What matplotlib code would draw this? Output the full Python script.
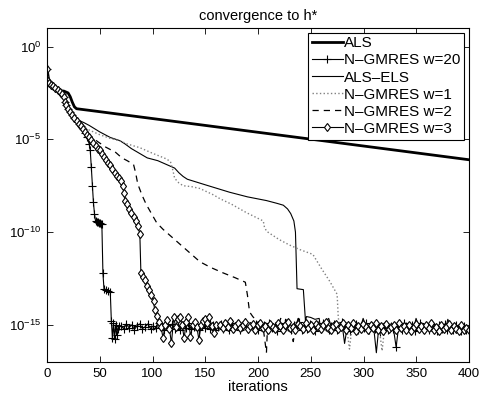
import numpy as np
import matplotlib
matplotlib.use("Agg")
import matplotlib.pyplot as plt
from matplotlib.ticker import NullLocator

plt.rcParams['font.family'] = ['Liberation Sans', 'DejaVu Sans']
plt.rcParams['mathtext.fontset'] = 'custom'
plt.rcParams['mathtext.rm'] = 'Liberation Sans'
plt.rcParams['mathtext.it'] = 'Liberation Sans:italic'

# --- data (log10 of the error) ---
labels = ['ALS', 'N–GMRES w=20', 'ALS–ELS', 'N–GMRES w=1', 'N–GMRES w=2', 'N–GMRES w=3']
xticks = [0, 50, 100, 150, 200, 250, 300, 350, 400]
yticks = [1e0, 1e-5, 1e-10, 1e-15]
ytick_labels = ['$10^{0}$', '$10^{-5}$', '$10^{-10}$', '$10^{-15}$']

# ALS
als_it = [0, 2, 5, 8, 12, 16, 20, 22, 24, 26, 28, 50, 100, 150, 200, 250, 300, 350, 400]
als_lg = [-1.2, -1.95, -2.15, -2.3, -2.38, -2.4, -2.5, -2.7, -3.0, -3.25, -3.35,
          -3.51, -3.88, -4.25, -4.62, -4.99, -5.36, -5.73, -6.1]

# shared start of the accelerated runs
bundle_it = [0, 1, 2, 4, 6, 8, 10, 12, 14, 16, 17, 18, 20, 22, 24, 26, 28]
bundle_lg = [-1.2, -1.85, -1.95, -2.05, -2.15, -2.25, -2.35, -2.45, -2.55, -2.7,
             -3.0, -3.15, -3.35, -3.55, -3.7, -3.85, -4.0]

# N-GMRES w=20
w20_it = [30, 32, 34, 36, 38, 40, 41, 42, 43, 44, 45, 46, 47, 48, 49, 50, 51, 52, 53,
          54, 56, 58, 60, 61, 62, 63, 64, 65, 66, 67, 68]
w20_lg = [-4.15, -4.3, -4.45, -4.65, -4.9, -5.25, -5.6, -6.5, -7.5, -8.4, -9.0, -9.4,
          -9.45, -9.45, -9.5, -9.5, -9.55, -9.55, -12.2, -13.05, -13.1, -13.15, -13.25,
          -14.8, -15.7, -14.9, -15.75, -15.0, -15.55, -15.2, -15.05]
w20_floor = [-15.05, -15.2, -14.95, -15.15, -15.0, -15.25, -15.05, -14.95, -15.2, -15.1,
             -14.95, -15.2, -15.05, -15.15, -14.9, -15.1, -15.25, -15.0, -15.15, -14.95,
             -15.2, -15.05, -15.3, -15.0, -15.15, -14.9, -15.2, -15.1, -14.95, -15.25,
             -15.05, -15.15, -14.9, -15.2, -15.0, -15.3, -15.1, -14.95, -15.2, -15.05,
             -15.25, -14.9, -15.15, -15.0, -15.3, -15.1, -14.85, -15.2, -15.05, -15.15,
             -14.95, -15.3, -15.1, -15.0, -15.25, -14.9, -15.15, -15.05, -15.35, -15.0,
             -15.2, -14.9, -15.1, -15.25, -15.0, -15.15, -14.85, -15.3, -15.05, -15.2,
             -14.95, -15.15, -15.35, -15.0, -15.2, -14.9, -15.1, -15.3, -15.05, -14.95,
             -15.25, -15.1, -14.85, -15.2, -15.0, -15.35, -15.1, -14.95, -15.25, -15.05,
             -15.15, -14.9, -15.3, -15.05, -15.2, -14.95, -15.4, -15.1, -15.0, -15.25,
             -15.05, -15.2, -16.2, -15.0, -15.3, -14.9, -15.15, -15.25, -15.0, -15.35,
             -15.1, -14.9, -15.2, -15.05, -15.3, -14.95, -15.15, -15.35, -15.0, -15.2,
             -14.95, -15.25, -15.1, -15.3, -15.0, -15.2, -15.35, -15.05, -15.25, -15.15]

# ALS-ELS
els_it = [31, 35, 40, 50, 60, 69, 74, 80, 95, 105, 117, 121, 125, 129, 133, 150, 173,
          190, 208, 218, 224, 228, 231, 234, 235.5, 236, 237, 243, 245, 246, 250, 254,
          258, 259]
els_lg = [-4.0, -4.1, -4.25, -4.6, -4.9, -5.07, -5.25, -5.5, -6.0, -6.15, -6.45, -6.55,
          -6.8, -7.0, -7.15, -7.45, -7.85, -8.1, -8.3, -8.45, -8.55, -8.75, -9.0, -9.4,
          -10.0, -11.0, -13.05, -13.1, -14.8, -14.55, -14.6, -14.7, -14.65, -15.1]
els_floor = [-15.0, -14.8, -14.65, -15.1, -14.95, -15.2, -15.05, -14.9, -16.0, -15.1,
             -14.95, -15.2, -15.05, -14.9, -15.15, -14.65, -15.05, -15.25, -15.0, -15.15,
             -16.5, -15.0, -15.2, -14.9, -15.1, -15.25, -14.95, -15.15, -15.05, -15.3,
             -14.95, -15.1, -15.2, -15.0, -15.25, -14.65, -15.1, -15.3, -15.0, -15.2,
             -15.05, -15.35, -14.95, -15.15, -15.25, -15.05, -15.3, -14.7, -15.1, -15.2,
             -15.0, -15.3, -15.1, -15.25, -15.15, -15.3]

# N-GMRES w=1
w1_it = [30, 34, 40, 50, 60, 70, 76, 88, 100, 113, 117, 119, 121, 125, 129, 137, 145,
         158, 164, 175, 189, 205, 206, 208, 220, 230, 240, 252, 260, 268, 275, 276, 277]
w1_lg = [-4.1, -4.3, -4.5, -4.75, -4.95, -5.1, -5.25, -5.45, -5.75, -6.05, -6.2, -6.6,
         -7.1, -7.35, -7.5, -7.55, -7.65, -8.0, -8.2, -8.5, -8.95, -9.4, -9.7, -9.95,
         -10.4, -10.7, -10.95, -11.2, -11.95, -12.65, -13.35, -14.5, -15.1]
w1_floor = [-15.05, -14.9, -15.2, -16.3, -15.0, -15.15, -14.95, -15.25, -15.05, -14.9,
            -15.2, -15.0, -15.15, -14.85, -15.25, -16.4, -15.05, -15.2, -14.95, -15.1,
            -15.3, -15.0, -15.15, -14.9, -15.2, -15.05, -15.3, -14.95, -15.1, -15.25,
            -15.0, -15.15, -15.35, -15.05, -15.2, -14.95, -15.3, -15.1, -15.0, -15.25,
            -15.15, -15.3, -15.05, -15.2, -15.1, -15.35, -15.15, -15.25]

# N-GMRES w=2
w2_it = [32, 36, 40, 45, 50, 55, 60, 64, 71, 76, 82, 84, 86, 90, 94, 100, 104, 110,
         120, 129, 135, 145, 155, 167, 178, 188, 190, 192, 195, 199, 202, 205, 208, 209]
w2_lg = [-4.3, -4.5, -4.75, -5.0, -5.2, -5.4, -5.55, -5.65, -6.0, -6.15, -6.35, -6.8,
         -7.4, -8.0, -8.5, -9.1, -9.5, -9.85, -10.35, -10.8, -11.1, -11.6, -11.9, -12.2,
         -12.45, -12.7, -13.4, -14.3, -14.55, -14.8, -15.1, -15.2, -16.5, -15.1]
w2_floor = [-15.05, -15.2, -14.95, -15.1, -14.65, -15.15, -14.7, -15.0, -15.2, -15.9,
            -15.05, -14.65, -15.15, -14.95, -15.2, -15.05, -15.3, -14.9, -15.1, -15.25,
            -15.0, -15.15, -14.85, -15.2, -15.05, -15.3, -14.95, -15.1, -15.25, -15.0,
            -15.15, -14.9, -15.3, -15.05, -15.2, -14.95, -15.35, -15.1, -15.0, -15.25,
            -15.05, -15.2, -14.9, -15.15, -15.3, -15.0, -15.25, -14.95, -15.15, -15.35,
            -15.05, -15.2, -15.0, -15.3, -14.9, -15.15, -15.25, -15.05, -15.35, -15.1,
            -15.0, -15.25, -15.1, -14.95, -15.3, -15.15, -15.05, -15.35, -15.2, -15.0,
            -15.25, -15.1, -15.35, -15.05, -15.2, -15.0, -15.3, -15.15, -15.25, -15.2]

# N-GMRES w=3
w3_it = [30, 32, 34, 36, 38, 40, 42, 44, 46, 48, 50, 52, 54, 56, 58, 60, 62, 64, 66,
         68, 70, 72, 73, 74, 76, 78, 80, 82, 84, 86, 88, 89, 91, 93, 95, 97, 99, 101,
         102, 104, 106, 108, 110, 112, 114, 116, 118, 120, 122, 124, 126, 128, 130,
         132, 134, 136, 138, 140, 142, 144, 146, 148, 150, 152, 154, 156, 158, 160]
w3_lg = [-4.15, -4.3, -4.45, -4.6, -4.75, -4.9, -5.05, -5.2, -5.35, -5.5, -5.6, -5.8,
         -5.95, -6.1, -6.25, -6.4, -6.6, -6.8, -6.95, -7.1, -7.25, -7.5, -7.9, -8.3,
         -8.5, -8.75, -8.95, -9.2, -9.4, -9.65, -10.1, -12.2, -12.4, -12.6, -12.9,
         -13.1, -13.4, -13.7, -14.2, -14.5, -14.85, -15.1, -15.7, -15.0, -14.75, -15.2,
         -16.0, -14.6, -15.1, -14.7, -14.55, -15.0, -15.7, -14.85, -14.6, -15.65, -15.0,
         -14.85, -15.1, -15.8, -15.0, -14.8, -14.7, -14.9, -14.6, -15.05, -15.45, -15.0]
w3_floor = [-15.0, -15.15, -14.9, -15.1, -14.8, -15.2, -15.05, -14.9, -15.15, -15.0,
            -14.85, -15.2, -15.05, -14.95, -15.25, -15.0, -14.9, -15.15, -15.05, -15.3,
            -14.95, -15.1, -15.2, -14.9, -15.05, -15.25, -15.0, -14.85, -15.15, -15.1,
            -15.3, -14.95, -15.05, -15.2, -14.9, -15.15, -15.0, -15.25, -14.95, -15.1,
            -15.2, -15.0, -14.85, -15.15, -15.3, -15.05, -14.95, -15.2, -15.1, -14.9,
            -15.25, -15.0, -15.15, -14.9, -15.35, -15.05, -15.2, -14.95, -15.1, -15.3,
            -15.0, -15.15, -14.9, -15.25, -15.05, -15.35, -14.95, -15.2, -15.1, -15.0,
            -15.3, -14.9, -15.15, -15.05, -15.25, -15.0, -15.35, -15.1, -14.95, -15.2,
            -15.05, -15.3, -15.0, -15.15, -14.9, -15.25, -15.1, -15.35, -15.0, -15.2,
            -15.1, -14.95, -15.3, -15.05, -15.2, -15.35, -15.0, -15.25, -15.15, -15.3]


def series(tail_it, tail_lg, floor, floor_start):
    it = np.concatenate([bundle_it, tail_it, np.linspace(floor_start, 400, len(floor))])
    lg = np.concatenate([bundle_lg, tail_lg, floor])
    return it, np.power(10.0, lg)


fig = plt.figure(figsize=(4.8, 3.97), dpi=100)
ax = fig.add_axes([47 / 480, 1 - 362 / 397, 422 / 480, 334 / 397])

ax.semilogy(als_it, np.power(10.0, als_lg), color='k', lw=2.0, label=labels[0])

x, y = series(w20_it, w20_lg, w20_floor, 70)
ax.semilogy(x, y, color='k', lw=0.8, marker='+', ms=6, mew=0.8, label=labels[1])

x, y = series(els_it, els_lg, els_floor, 262)
ax.semilogy(x, y, color='k', lw=0.8, label=labels[2])

x, y = series(w1_it, w1_lg, w1_floor, 279)
ax.semilogy(x, y, color='0.5', lw=1.0, ls=':', label=labels[3])

x, y = series(w2_it, w2_lg, w2_floor, 212)
ax.semilogy(x, y, color='k', lw=0.9, ls=(0, (5, 4)), label=labels[4])

x, y = series(w3_it, w3_lg, w3_floor, 164)
ax.semilogy(x, y, color='k', lw=0.8, marker='d', ms=4.5, mfc='white', mec='k',
            mew=0.8, label=labels[5])

ax.set_xlim(0, 400)
ax.set_ylim(1e-17, 1e1)
ax.set_xticks(xticks)
ax.set_yticks(yticks, labels=ytick_labels)
ax.yaxis.set_minor_locator(NullLocator())
ax.tick_params(direction='in', top=True, right=True, length=4, width=0.6,
               labelsize=9.5, pad=4)
for s in ax.spines.values():
    s.set_linewidth(0.8)

ax.set_title('convergence to h*', fontsize=10.5, pad=6)
ax.set_xlabel('iterations', fontsize=10.5, labelpad=0)

leg = ax.legend(loc='upper right', fontsize=11, fancybox=False, framealpha=1,
                edgecolor='k', borderaxespad=0.3, borderpad=0.25, labelspacing=0.2,
                handlelength=2.0, handletextpad=0.1)
leg.get_frame().set_linewidth(0.8)

fig.savefig('out.png', dpi=100)
